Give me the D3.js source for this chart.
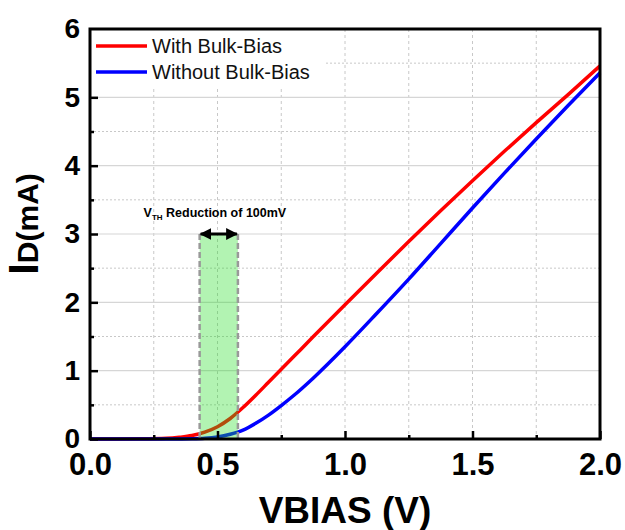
<!DOCTYPE html>
<html>
<head>
<meta charset="utf-8">
<script src="https://cdn.jsdelivr.net/npm/d3@7"></script>
<style>
  body { margin: 0; background: #fff; }
  text { font-family: Arial, "Liberation Sans", sans-serif; }
</style>
</head>
<body>
<div id="chart"></div>
<script>
// data
var vbias = [0, 0.1, 0.2, 0.3, 0.35, 0.4, 0.45, 0.5, 0.55, 0.6, 0.65, 0.7, 0.75, 0.8, 0.875, 1.0, 1.125, 1.25, 1.375, 1.5, 1.625, 1.75, 1.875, 2.0];
var withBulk = [0, 0, 0.002, 0.01, 0.025, 0.05, 0.1, 0.18, 0.3, 0.46, 0.64, 0.83, 1.02, 1.21, 1.495, 1.965, 2.43, 2.89, 3.34, 3.78, 4.21, 4.63, 5.04, 5.46];
var withoutBulk = [0, 0, 0, 0, 0.001, 0.003, 0.01, 0.03, 0.07, 0.13, 0.23, 0.35, 0.49, 0.64, 0.89, 1.35, 1.84, 2.34, 2.86, 3.38, 3.89, 4.39, 4.88, 5.36];
var seriesNames = ["With Bulk-Bias", "Without Bulk-Bias"];
var seriesColors = ["#ff0000", "#0000ff"];
var xTicks = [0, 0.5, 1.0, 1.5, 2.0];
var yTicks = [0, 1, 2, 3, 4, 5, 6];
var vthRange = [0.43, 0.58];
var vthTop = 3;

var width = 625, height = 530,
    margin = {top: 29, right: 25, bottom: 91, left: 90};
var w = width - margin.left - margin.right,
    h = height - margin.top - margin.bottom;

var svg = d3.select("#chart")
    .append("svg")
    .attr("width", width)
    .attr("height", height);

var g = svg.append("g")
    .attr("transform", "translate(" + margin.left + "," + margin.top + ")");

var x = d3.scaleLinear().domain([0, 2]).range([0, w]);
var y = d3.scaleLinear().domain([0, 6]).range([h, 0]);

// grid
g.selectAll(".vgrid")
    .data(d3.range(0.25, 2, 0.25))
    .join("line")
    .attr("x1", d => x(d)).attr("x2", d => x(d))
    .attr("y1", 0).attr("y2", h)
    .attr("stroke", "#c8c8c8").attr("stroke-width", 1)
    .attr("stroke-dasharray", "3,3");
g.selectAll(".hgrid")
    .data(d3.range(1, 6, 1))
    .join("line")
    .attr("x1", 0).attr("x2", w)
    .attr("y1", d => y(d)).attr("y2", d => y(d))
    .attr("stroke", "#d6d6d6").attr("stroke-width", 1.2);
g.selectAll(".hminor")
    .data(d3.range(0.5, 6, 1))
    .join("line")
    .attr("x1", 0).attr("x2", w)
    .attr("y1", d => y(d)).attr("y2", d => y(d))
    .attr("stroke", "#c8c8c8").attr("stroke-width", 1)
    .attr("stroke-dasharray", "2,2");

// curves
var line = d3.line()
    .x(d => x(d[0]))
    .y(d => y(d[1]))
    .curve(d3.curveMonotoneX);

[withBulk, withoutBulk].forEach(function(s, i) {
    g.append("path")
        .datum(vbias.map((v, j) => [v, s[j]]))
        .attr("d", line)
        .attr("fill", "none")
        .attr("stroke", seriesColors[i])
        .attr("stroke-width", 3.5);
});

// Vth shaded region
g.append("rect")
    .attr("x", x(vthRange[0]))
    .attr("y", y(vthTop))
    .attr("width", x(vthRange[1]) - x(vthRange[0]))
    .attr("height", y(0) - y(vthTop))
    .attr("fill", "#22dd22")
    .attr("fill-opacity", 0.35);
vthRange.forEach(function(v) {
    g.append("line")
        .attr("x1", x(v)).attr("x2", x(v))
        .attr("y1", y(vthTop)).attr("y2", y(0))
        .attr("stroke", "#999").attr("stroke-width", 2.5)
        .attr("stroke-dasharray", "6,3");
});

// arrow
var defs = svg.append("defs");
defs.append("marker")
    .attr("id", "ah")
    .attr("viewBox", "0 0 10 10")
    .attr("refX", 9).attr("refY", 5)
    .attr("markerWidth", 4).attr("markerHeight", 4)
    .attr("orient", "auto-start-reverse")
    .append("path")
    .attr("d", "M0,0 L10,5 L0,10 z")
    .attr("fill", "#000");
g.append("line")
    .attr("x1", x(vthRange[0]) + 1).attr("x2", x(vthRange[1]) - 1)
    .attr("y1", y(vthTop)).attr("y2", y(vthTop))
    .attr("stroke", "#000").attr("stroke-width", 3)
    .attr("marker-start", "url(#ah)")
    .attr("marker-end", "url(#ah)");

var ann = g.append("text")
    .attr("x", x(0.21))
    .attr("y", y(3.25))
    .attr("font-size", 12.5)
    .attr("font-weight", "bold");
ann.append("tspan").text("V");
ann.append("tspan").attr("font-size", 8).attr("dy", 3).text("TH");
ann.append("tspan").attr("dy", -3).text(" Reduction of 100mV");

// axes
var xAxis = g.append("g")
    .attr("transform", "translate(0," + h + ")")
    .call(d3.axisBottom(x).tickValues(xTicks).tickSize(-8).tickPadding(14)
        .tickFormat(d3.format(".1f")));
var xMinor = g.append("g")
    .attr("transform", "translate(0," + h + ")")
    .call(d3.axisBottom(x).tickValues(d3.range(0.25, 2, 0.5)).tickSize(-4).tickFormat(""));
var yAxis = g.append("g")
    .call(d3.axisLeft(y).tickValues(yTicks).tickSize(-8).tickPadding(10)
        .tickFormat(d3.format("d")));
var yMinor = g.append("g")
    .call(d3.axisLeft(y).tickValues(d3.range(0.5, 6, 1)).tickSize(-4).tickFormat(""));

[xAxis, xMinor, yAxis, yMinor].forEach(function(a) {
    a.select(".domain").remove();
    a.selectAll(".tick line").attr("stroke", "#000").attr("stroke-width", 2.5);
});
xAxis.selectAll("text")
    .attr("font-size", 31).attr("font-weight", "bold").attr("fill", "#000")
    .attr("font-family", "Arial, 'Liberation Sans', sans-serif");
yAxis.selectAll("text")
    .attr("font-size", 28).attr("font-weight", "bold").attr("fill", "#000")
    .attr("font-family", "Arial, 'Liberation Sans', sans-serif");

// legend
g.append("rect")
    .attr("x", 0).attr("y", 0)
    .attr("width", 235).attr("height", 58)
    .attr("fill", "#fff");
seriesNames.forEach(function(name, i) {
    var ly = 17 + i * 26;
    g.append("line")
        .attr("x1", 6).attr("x2", 57)
        .attr("y1", ly).attr("y2", ly)
        .attr("stroke", seriesColors[i]).attr("stroke-width", 3.5);
    g.append("text")
        .attr("x", 62).attr("y", ly + 7)
        .attr("font-size", 20)
        .attr("fill", "#111")
        .text(name);
});

// frame
g.append("rect")
    .attr("x", 0).attr("y", 0)
    .attr("width", w).attr("height", h)
    .attr("fill", "none")
    .attr("stroke", "#000").attr("stroke-width", 3);

// titles
svg.append("text")
    .attr("x", margin.left + w / 2)
    .attr("y", 523)
    .attr("text-anchor", "middle")
    .attr("font-size", 37)
    .attr("font-weight", "bold")
    .text("VBIAS (V)");

var yt = svg.append("text")
    .attr("transform", "translate(38,224) rotate(-90)")
    .attr("text-anchor", "middle")
    .attr("font-weight", "bold");
yt.append("tspan").attr("font-size", 42).text("I");
yt.append("tspan").attr("font-size", 30).text("D(mA)");
</script>
</body>
</html>
